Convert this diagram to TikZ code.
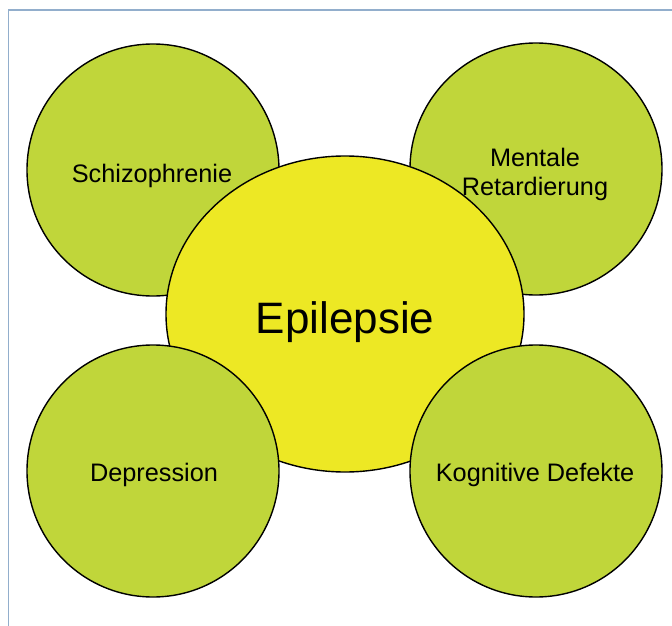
\documentclass[tikz,border=0pt]{standalone}
\usepackage{fontspec}
\setmainfont{Liberation Sans}
\usetikzlibrary{shapes.geometric}
\definecolor{circgreen}{RGB}{192,214,58}
\definecolor{centeryellow}{RGB}{237,232,36}
\definecolor{frameblue}{RGB}{146,174,204}
\tikzset{
  sidecircle/.style={circle, draw=black, line width=1.4pt, fill=circgreen, minimum size=252pt, inner sep=0pt},
  centerellipse/.style={ellipse, draw=black, line width=1.4pt, fill=centeryellow, minimum width=358pt, minimum height=316pt, inner sep=0pt},
  smalllabel/.style={font=\fontsize{25.3}{29}\selectfont, inner sep=0pt, align=center},
  biglabel/.style={font=\fontsize{44}{50}\selectfont, inner sep=0pt}
}
\begin{document}
\begin{tikzpicture}[x=1pt,y=-1pt]
\useasboundingbox (0,0) rectangle (672,626);
\clip (0,0) rectangle (672,626);
\fill[white] (0,0) rectangle (672,626);
\draw[frameblue, line width=1.5pt] (8.5,10) rectangle (700,660);
% top circles (behind the centre)
\node[sidecircle] (schizo) at (153,170) {};
\node[sidecircle] (mental) at (536,169) {};
% centre
\node[centerellipse] (epi) at (345,314) {};
% bottom circles (in front of the centre)
\node[sidecircle] (depr) at (153,471) {};
\node[sidecircle] (kogn) at (536,471) {};
% labels
\node[smalllabel, anchor=base] (tschizo) at (152,182) {Schizophrenie};
\node[smalllabel] (tmental) at (535,174) {Mentale\\Retardierung};
\node[biglabel, anchor=base] (tepi) at (345,333) {Epilepsie};
\node[smalllabel, anchor=base] (tdepr) at (154,481) {Depression};
\node[smalllabel, anchor=base] (tkogn) at (535,481) {Kognitive Defekte};
\end{tikzpicture}
\end{document}
